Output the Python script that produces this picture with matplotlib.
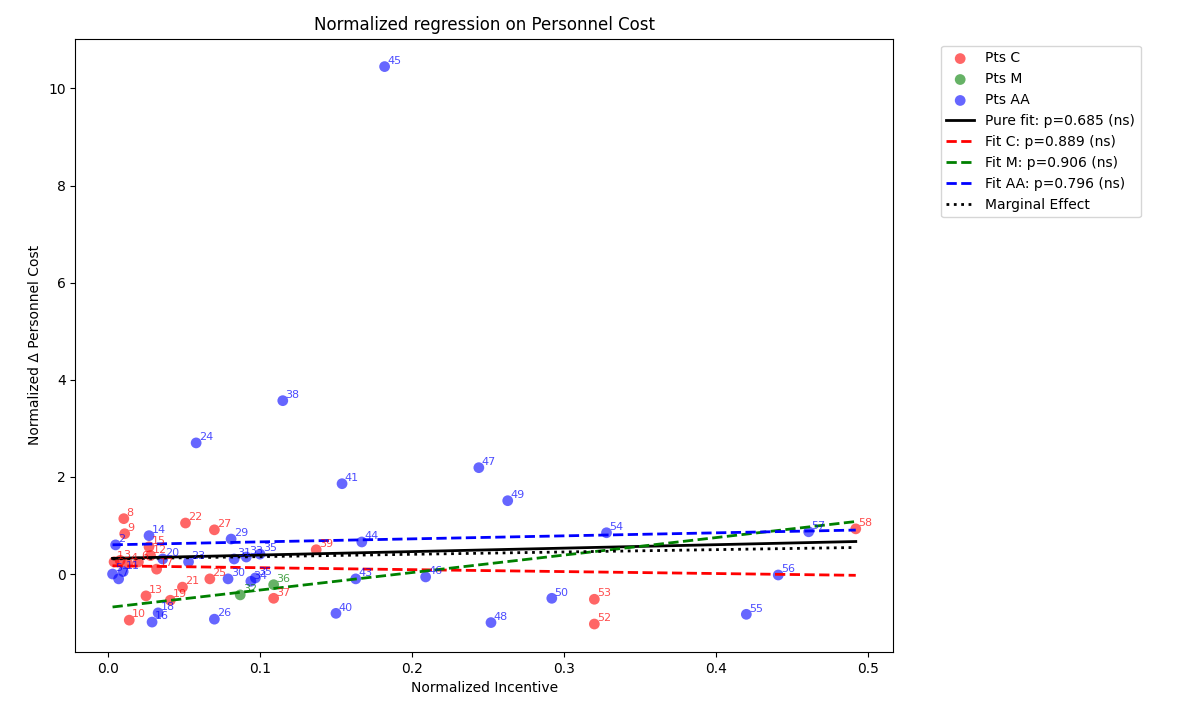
import numpy as np
import matplotlib.pyplot as plt

# Pts C
c_x = [0.0104, 0.011, 0.051, 0.070, 0.027, 0.004, 0.008, 0.013, 0.020, 0.032,
       0.025, 0.014, 0.049, 0.067, 0.109, 0.137, 0.320, 0.320, 0.492, 0.041, 0.028]
c_y = [1.14, 0.83, 1.05, 0.91, 0.56, 0.25, 0.28, 0.22, 0.25, 0.10,
       -0.45, -0.95, -0.27, -0.10, -0.50, 0.50, -1.03, -0.52, 0.93, -0.54, 0.38]
c_lab = ["8", "9", "22", "27", "15", "1", "3", "4", "6", "17",
         "13", "10", "21", "25", "37", "39", "52", "53", "58", "19", "12"]

# Pts M
m_x = [0.087, 0.109]
m_y = [-0.43, -0.22]
m_lab = ["32", "36"]

# Pts AA
a_x = [0.182, 0.115, 0.058, 0.154, 0.244, 0.263, 0.027, 0.167, 0.328, 0.461,
       0.441, 0.420, 0.292, 0.252, 0.150, 0.163, 0.209, 0.070, 0.029, 0.033,
       0.079, 0.094, 0.097, 0.081, 0.083, 0.091, 0.100, 0.005, 0.003, 0.007,
       0.010, 0.036, 0.053]
a_y = [10.45, 3.57, 2.70, 1.86, 2.19, 1.51, 0.79, 0.66, 0.85, 0.87,
       -0.02, -0.83, -0.50, -1.00, -0.81, -0.10, -0.06, -0.93, -0.99, -0.80,
       -0.10, -0.15, -0.08, 0.72, 0.31, 0.35, 0.41, 0.60, 0.00, -0.10,
       0.05, 0.31, 0.25]
a_lab = ["45", "38", "24", "41", "47", "49", "14", "44", "54", "57",
         "56", "55", "50", "48", "40", "43", "46", "26", "16", "18",
         "30", "34", "35", "29", "31", "33", "35", "2", "5", "7",
         "11", "20", "23"]

# fits (intercept, slope)
pure_fit = (0.32, 0.71)
fit_c = (0.17, -0.40)
fit_m = (-0.69, 3.60)
fit_aa = (0.60, 0.62)
marginal = (0.31, 0.48)

fig, ax = plt.subplots(figsize=(11.78, 7.04), dpi=100)

groups = [("Pts C", c_x, c_y, c_lab, "red"),
          ("Pts M", m_x, m_y, m_lab, "green"),
          ("Pts AA", a_x, a_y, a_lab, "blue")]
for name, xs, ys, labs, col in groups:
    ax.scatter(xs, ys, s=60, color=col, alpha=0.6, edgecolors="none", label=name)
    for xx, yy, t in zip(xs, ys, labs):
        ax.annotate(t, (xx, yy), xytext=(2, 2), textcoords="offset points",
                    fontsize=8, color=col, alpha=0.7)

all_x = np.array(c_x + m_x + a_x)
xl = np.array([all_x.min(), all_x.max()])
ax.plot(xl, pure_fit[0] + pure_fit[1] * xl, color="black", lw=2, label="Pure fit: p=0.685 (ns)")
ax.plot(xl, fit_c[0] + fit_c[1] * xl, "--", color="red", lw=2, label="Fit C: p=0.889 (ns)")
ax.plot(xl, fit_m[0] + fit_m[1] * xl, "--", color="green", lw=2, label="Fit M: p=0.906 (ns)")
ax.plot(xl, fit_aa[0] + fit_aa[1] * xl, "--", color="blue", lw=2, label="Fit AA: p=0.796 (ns)")
ax.plot(xl, marginal[0] + marginal[1] * xl, ":", color="black", lw=2, label="Marginal Effect")

ax.set_title("Normalized regression on Personnel Cost")
ax.set_xlabel("Normalized Incentive")
ax.set_ylabel("Normalized Δ Personnel Cost")
ax.legend(bbox_to_anchor=(1.05, 1), loc="upper left")
plt.subplots_adjust(left=0.064, right=0.758, top=0.945, bottom=0.074)
plt.savefig("out.png")
